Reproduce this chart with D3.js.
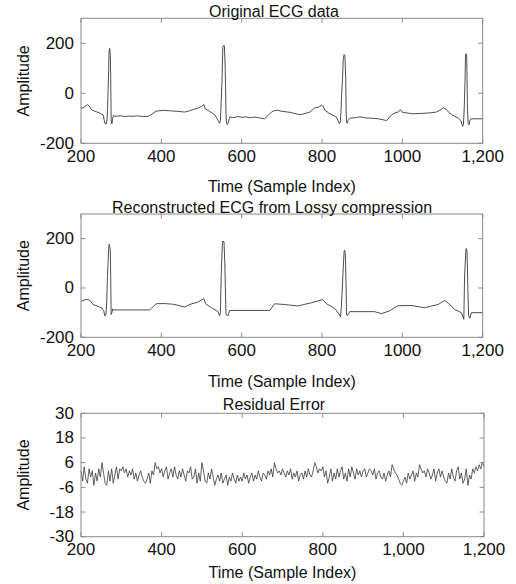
<!DOCTYPE html>
<html>
<head>
<meta charset="utf-8">
<script src="https://cdn.jsdelivr.net/npm/d3@7"></script>
<style>
  html, body { margin: 0; padding: 0; background: #fff; }
  svg { display: block; }
  text { font-family: "Liberation Sans", Arial, sans-serif; fill: #111; }
</style>
</head>
<body>
<svg id="chart" width="516" height="584"></svg>
<script>
/* ECG compression figure — three stacked panels, MATLAB-like look */

// --- data ---
const origIdx = [200, 208, 216, 220, 226, 235, 247, 255, 258, 260, 263, 265, 266, 268, 270, 271, 272, 273, 274, 275, 276, 277, 279, 281, 285, 300, 310, 320, 330, 340, 355, 367, 375, 387, 395, 407, 420, 440, 458, 470, 479, 490, 500, 506, 509, 520, 533, 540, 545, 547, 548, 551, 553, 555, 557, 559, 561, 562, 564, 566, 570, 580, 590, 600, 610, 620, 630, 640, 657, 665, 674, 680, 690, 700, 720, 745, 760, 770, 782, 792, 799, 803, 807, 820, 836, 840, 843, 845, 847, 849, 851, 853, 855, 857, 859, 860, 861, 863, 865, 870, 880, 890, 900, 910, 920, 940, 961, 973, 982, 990, 995, 1000, 1027, 1050, 1070, 1085, 1095, 1102, 1109, 1115, 1123, 1139, 1146, 1150, 1152, 1154, 1156, 1157, 1158, 1160, 1161, 1162, 1164, 1166, 1168, 1171, 1200];
const origAmp = [-61, -55, -45, -50, -66, -72, -79, -86, -110, -122, -122, -100, -70, 40, 170, 180, 175, 150, 60, -100, -118, -122, -100, -88, -92, -90, -93, -91, -92, -90, -93, -92, -85, -71, -70, -68, -70, -72, -75, -70, -65, -60, -52, -45, -62, -72, -86, -105, -120, -110, -70, 48, 185, 191, 190, 100, -80, -115, -125, -120, -95, -97, -93, -96, -94, -98, -95, -97, -102, -90, -75, -70, -68, -72, -76, -86, -80, -75, -58, -55, -48, -52, -68, -82, -95, -110, -122, -118, -80, 0, 60, 140, 155, 150, 60, -60, -115, -120, -108, -99, -98, -95, -95, -99, -99, -102, -109, -86, -78, -75, -66, -76, -82, -80, -78, -75, -66, -58, -64, -75, -86, -99, -110, -132, -125, -60, 48, 140, 159, 150, 60, -60, -122, -126, -110, -102, -102];

const reconIdx = [200, 213, 222, 230, 251, 257, 259, 262, 264, 266, 269, 270, 272, 273, 274, 275, 277, 279, 282, 371, 380, 387, 407, 430, 458, 474, 490, 506, 510, 525, 541, 545, 547, 549, 552, 553, 556, 558, 561, 566, 570, 670, 682, 707, 740, 773, 802, 811, 832, 844, 846, 848, 852, 855, 856, 858, 860, 861, 863, 869, 931, 948, 968, 989, 1022, 1055, 1089, 1105, 1114, 1130, 1147, 1153, 1155, 1158, 1159, 1161, 1163, 1165, 1168, 1172, 1200];
const reconAmp = [-54, -46, -50, -67, -80, -95, -113, -110, -60, 53, 160, 177, 165, 150, 40, -107, -100, -85, -89, -89, -75, -64, -63, -66, -77, -65, -58, -43, -64, -80, -96, -113, -100, 53, 180, 190, 188, 100, -107, -113, -91, -91, -64, -67, -73, -60, -47, -64, -83, -110, -118, -80, 53, 150, 153, 140, 0, -107, -113, -96, -96, -104, -93, -72, -71, -80, -67, -51, -61, -87, -100, -127, 53, 150, 160, 150, 0, -113, -123, -100, -100];

// residual error, one reading every 4 samples from 200 to 1200
const residualStart = 200;
const residualStep = 4;
const residual = [
  2, -3, 4, -2, -4, 3, -1, 2, -5, 1, -3, 3, -1, 6, 1, -4, -5, 2, -3, 3, -4, 0, 4, -2, 3,
  2, 4, 1, 3, -1, 2, 0, 3, -2, 1, -3, 0, 2, -1, -3, -4, -2, 1, -4, 2, 0, 6, 3, 4, 1,
  3, -1, 2, 4, -2, 1, 3, -1, 4, 0, -2, 2, -1, 3, 0, -3, 2, 1, 4, -2, -1, 3, -4, 1, -3,
  6, 2, -3, -4, 1, -2, 3, -1, -5, -2, 0, -3, 1, -4, -2, 0, -5, -1, -3, 1, -2, -4, 0, -3, -1,
  -3, 1, -2, 0, -4, -1, 1, -3, 0, -2, 2, -1, -3, 1, 0, -2, 2, 0, 3, -1, 6, 3, 1, 2, 0,
  3, 1, -1, 2, 0, 3, -2, 1, -1, 2, -3, 0, 1, -2, 2, -1, 3, 0, -1, 2, 6, 4, 1, 3, 2,
  4, -1, 2, -4, -1, 3, -3, 1, -2, 3, -1, 2, 4, -2, 1, -3, 3, -1, 4, 1, -2, 3, 0, 2, -1,
  2, 3, -1, 1, 3, 2, 0, 3, -2, 1, 2, -1, -2, 1, -3, 0, 2, -1, 5, 3, 1, 0, -2, -4, -5,
  -3, -1, -4, 1, -2, 0, 2, -3, 1, -1, 5, 3, 1, 2, -1, 3, 1, -2, 0, 3, -3, 1, 3, -1, 2,
  -1, -3, -4, 1, -2, 3, -1, -3, 2, 4, -2, 1, -4, -2, 3, -5, 0, -2, 3, 1, 4, 2, 5, 3, 6,
  4
];

// ticks
const xTicks = [200, 400, 600, 800, 1000, 1200];
const xTickLabelsEcg = ['200', '400', '600', '800', '1000', '1,200'];
const xTickLabelsRes = ['200', '400', '600', '800', '1,000', '1,200'];
const yTicksEcg = [-200, 0, 200];
const yTicksRes = [-30, -18, -6, 6, 18, 30];

const titles = ['Original ECG data', 'Reconstructed ECG from Lossy compression', 'Residual Error'];

// --- layout ---
const svg = d3.select('#chart');
const BOX = '#8a8a8a';
const LINE = '#3a3a3a';

const panels = [
  { title: titles[0], top: 18.3, bottom: 143.3, right: 482.7, titleX: 274, titleY: 16.5, xTitleY: 191.5,
    yDomain: [-200, 300], yTicks: yTicksEcg, xLabels: xTickLabelsEcg,
    xs: origIdx, ys: origAmp, lw: 0.9 },
  { title: titles[1], top: 214, bottom: 337.3, right: 482.7, titleX: 272, titleY: 212.5, xTitleY: 386.5,
    yDomain: [-200, 300], yTicks: yTicksEcg, xLabels: xTickLabelsEcg,
    xs: reconIdx, ys: reconAmp, lw: 0.9 },
  { title: titles[2], top: 413.3, bottom: 536.7, right: 484, titleX: 274, titleY: 409.5, xTitleY: 578,
    yDomain: [-30, 30], yTicks: yTicksRes, xLabels: xTickLabelsRes,
    xs: residual.map((_, i) => residualStart + i * residualStep), ys: residual, lw: 0.8 }
];

const LEFT = 81;
const TICK = 4.5;

panels.forEach(p => {
  const x = d3.scaleLinear().domain([200, 1200]).range([LEFT, p.right]);
  const y = d3.scaleLinear().domain(p.yDomain).range([p.bottom, p.top]);
  const g = svg.append('g');

  // trace
  const pts = p.xs.map((s, i) => [s, p.ys[i]]);
  const line = d3.line().x(d => x(d[0])).y(d => y(d[1]));
  g.append('path')
    .datum(pts)
    .attr('d', line)
    .attr('fill', 'none')
    .attr('stroke', LINE)
    .attr('stroke-width', p.lw)
    .attr('stroke-linejoin', 'round');

  // inward ticks, all four sides
  const ticks = g.append('g').attr('stroke', BOX).attr('stroke-width', 1);
  xTicks.forEach(t => {
    const xv = x(t);
    ticks.append('line').attr('x1', xv).attr('x2', xv).attr('y1', p.bottom).attr('y2', p.bottom - TICK);
    ticks.append('line').attr('x1', xv).attr('x2', xv).attr('y1', p.top).attr('y2', p.top + TICK);
  });
  p.yTicks.forEach(t => {
    const yv = y(t);
    ticks.append('line').attr('x1', LEFT).attr('x2', LEFT + TICK).attr('y1', yv).attr('y2', yv);
    ticks.append('line').attr('x1', p.right).attr('x2', p.right - TICK).attr('y1', yv).attr('y2', yv);
  });

  // box
  g.append('rect')
    .attr('x', LEFT).attr('y', p.top)
    .attr('width', p.right - LEFT).attr('height', p.bottom - p.top)
    .attr('fill', 'none').attr('stroke', BOX).attr('stroke-width', 1);

  // x tick labels
  xTicks.forEach((t, i) => {
    g.append('text')
      .attr('x', x(t)).attr('y', p.bottom + 18.5)
      .attr('text-anchor', 'middle')
      .attr('font-size', '17px')
      .text(p.xLabels[i]);
  });

  // y tick labels
  p.yTicks.forEach(t => {
    g.append('text')
      .attr('x', LEFT - 7).attr('y', y(t))
      .attr('text-anchor', 'end')
      .attr('dominant-baseline', 'central')
      .attr('font-size', '17px')
      .text(t);
  });

  // titles
  g.append('text')
    .attr('x', p.titleX).attr('y', p.titleY)
    .attr('text-anchor', 'middle')
    .attr('font-size', '16px')
    .text(p.title);

  g.append('text')
    .attr('x', (LEFT + p.right) / 2).attr('y', p.xTitleY)
    .attr('text-anchor', 'middle')
    .attr('font-size', '16px')
    .text('Time (Sample Index)');

  g.append('text')
    .attr('transform', `translate(29,${(p.top + p.bottom) / 2}) rotate(-90)`)
    .attr('text-anchor', 'middle')
    .attr('font-size', '16px')
    .text('Amplitude');
});
</script>
</body>
</html>
